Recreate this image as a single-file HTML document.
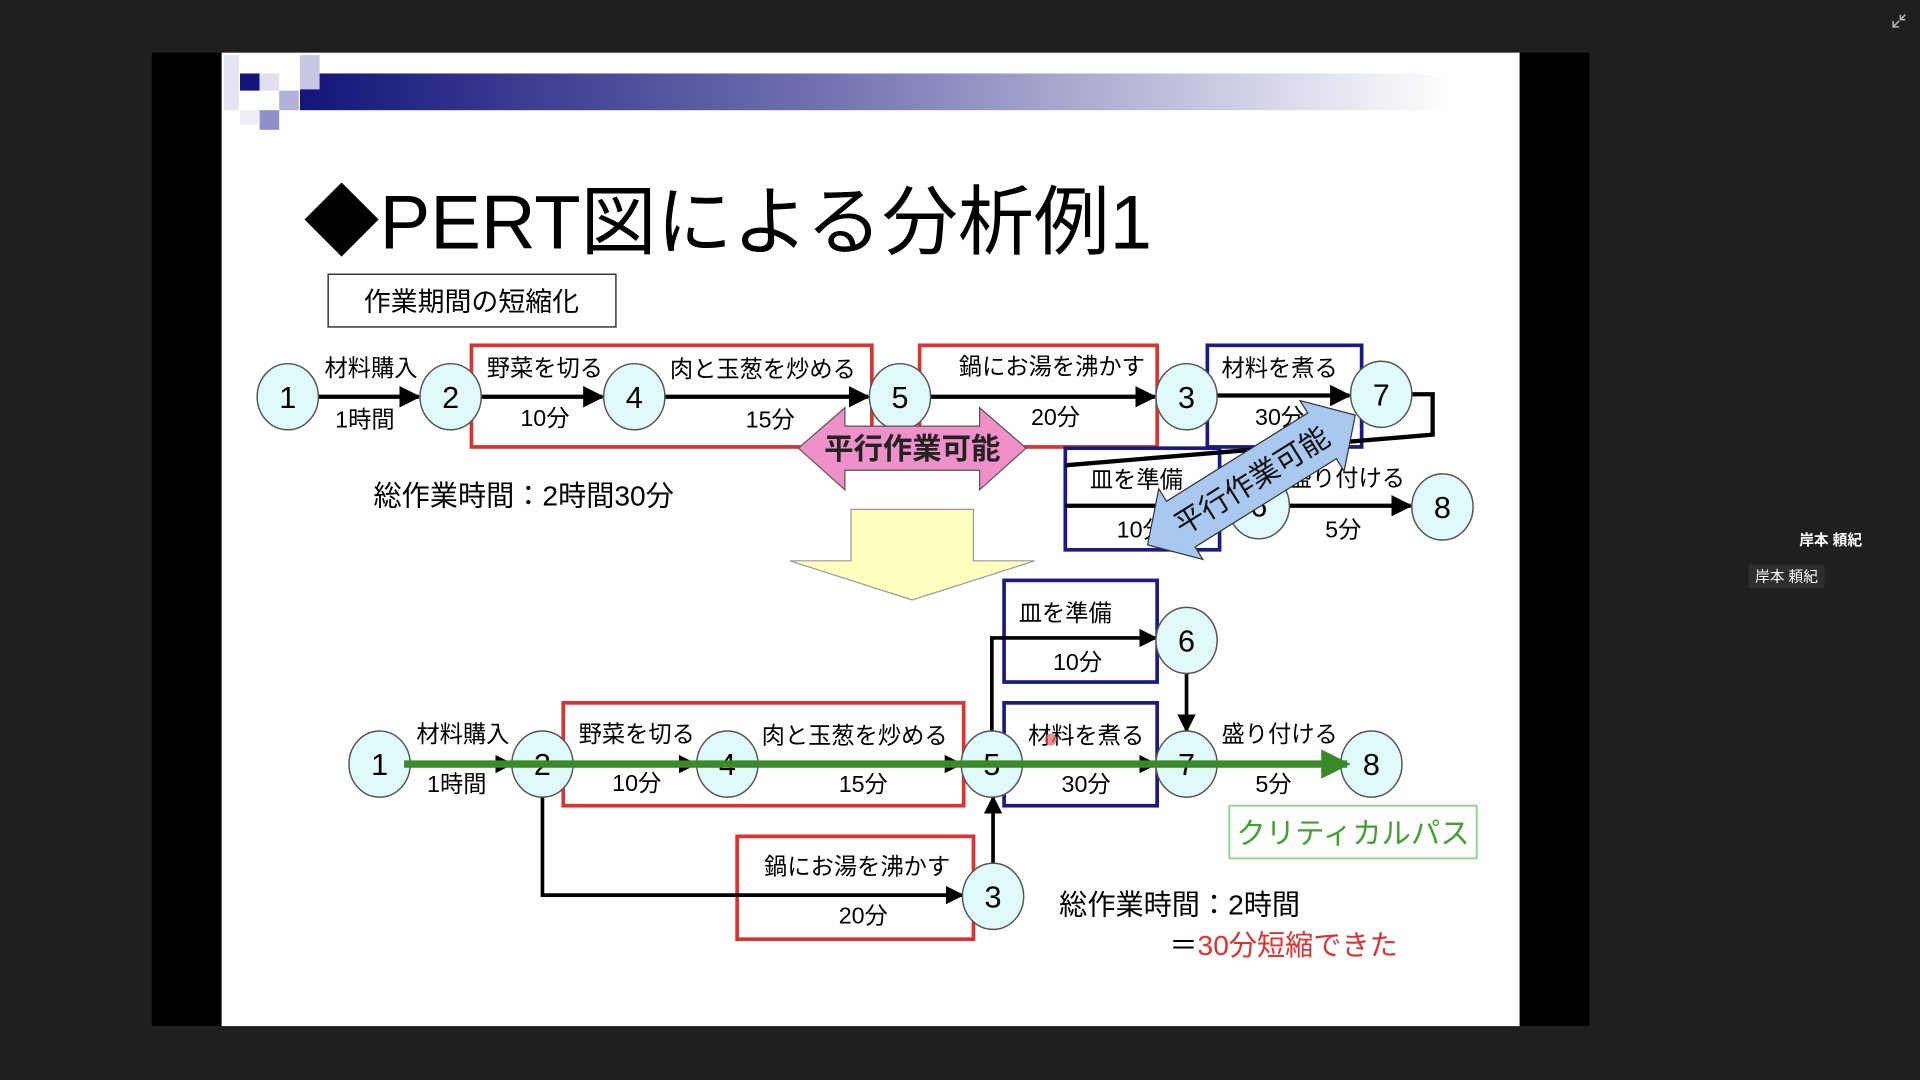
<!DOCTYPE html>
<html><head><meta charset="utf-8"><style>
html,body{margin:0;padding:0;background:#1f1f1f;width:1920px;height:1080px;overflow:hidden}
svg{display:block}
text{font-family:"Liberation Sans","Noto Sans CJK JP",sans-serif}
</style></head><body>
<svg width="1920" height="1080" viewBox="0 0 1568 882" xmlns="http://www.w3.org/2000/svg">
<defs>
<linearGradient id="band" x1="0" x2="1" y1="0" y2="0">
<stop offset="0" stop-color="#14147a"/><stop offset="0.45" stop-color="#7070b0"/><stop offset="1" stop-color="#ffffff"/></linearGradient>
<marker id="ah" markerWidth="5" markerHeight="5" refX="4.5" refY="2.5" orient="auto" markerUnits="strokeWidth">
<path d="M0,0 L5,2.5 L0,5 z" fill="#000"/></marker>
<marker id="ag" markerWidth="4" markerHeight="4" refX="3.5" refY="2" orient="auto" markerUnits="strokeWidth">
<path d="M0,0 L4,2 L0,4 z" fill="#3a8a2a"/></marker>
</defs>
<rect x="0" y="0" width="1568" height="882" fill="#1f1f1f"/>
<rect x="124" y="43" width="1174" height="795" fill="#000"/>
<rect x="181" y="43" width="1060" height="795" fill="#fff"/>
<rect x="245" y="60" width="940" height="30" fill="url(#band)"/>
<rect x="183" y="45" width="12" height="45" fill="#e4e4f2"/>
<rect x="245" y="45" width="16" height="28" fill="#c8c8e4"/>
<rect x="196" y="60" width="16" height="14" fill="#14147a"/>
<rect x="212" y="60" width="16" height="14" fill="#e0e0f0"/>
<rect x="228" y="74" width="16" height="16" fill="#b0b0d8"/>
<rect x="212" y="90" width="16" height="16" fill="#9090c8"/>
<rect x="196" y="90" width="16" height="12" fill="#eeeef6"/>
<text x="248" y="203" font-size="62" fill="#000">◆PERT図による分析例1</text>
<rect x="268" y="224" width="235" height="43" fill="#fff" stroke="#333" stroke-width="1.2"/>
<text x="385" y="254" font-size="22" text-anchor="middle">作業期間の短縮化</text>

<rect x="385" y="282" width="327" height="83" fill="none" stroke="#e03030" stroke-width="3"/>
<rect x="751" y="282" width="194" height="83" fill="none" stroke="#e03030" stroke-width="3"/>
<rect x="986" y="282" width="126" height="83" fill="none" stroke="#1a1a80" stroke-width="3"/>
<rect x="870" y="366" width="126" height="83" fill="#fff" stroke="#1a1a80" stroke-width="3"/>
<g stroke="#000" stroke-width="3.5" fill="none">
<line x1="260" y1="324" x2="342" y2="324" marker-end="url(#ah)"/>
<line x1="393" y1="324" x2="492" y2="324" marker-end="url(#ah)"/>
<line x1="543" y1="324" x2="709" y2="324" marker-end="url(#ah)"/>
<line x1="760" y1="324" x2="943" y2="324" marker-end="url(#ah)"/>
<line x1="994" y1="323" x2="1102" y2="323" marker-end="url(#ah)"/>
<polyline points="1152,322 1170,322 1170,355 870,380"/>
<line x1="1053" y1="413" x2="1152" y2="413" marker-end="url(#ah)"/>
<line x1="870" y1="413" x2="1003" y2="413"/>
</g>
<g fill="#e0fafa" stroke="#555" stroke-width="1.2">
<ellipse cx="235" cy="324" rx="25" ry="27"/><ellipse cx="368" cy="324" rx="25" ry="27"/>
<ellipse cx="518" cy="324" rx="25" ry="27"/><ellipse cx="735" cy="324" rx="25" ry="27"/>
<ellipse cx="969" cy="324" rx="25" ry="27"/><ellipse cx="1128" cy="322" rx="25" ry="27"/>
<ellipse cx="1028" cy="413" rx="25" ry="27"/><ellipse cx="1178" cy="414" rx="25" ry="27"/>
</g>
<g font-size="25" text-anchor="middle">
<text x="235" y="333">1</text><text x="368" y="333">2</text><text x="518" y="333">4</text>
<text x="735" y="333">5</text><text x="969" y="333">3</text><text x="1128" y="331">7</text>
<text x="1028" y="422">6</text><text x="1178" y="423">8</text>
</g>
<g font-size="19" text-anchor="middle">
<text x="303" y="307">材料購入</text><text x="298" y="349">1時間</text>
<text x="445" y="307">野菜を切る</text><text x="445" y="348">10分</text>
<text x="623" y="308">肉と玉葱を炒める</text><text x="629" y="349">15分</text>
<text x="859" y="306">鍋にお湯を沸かす</text><text x="862" y="347">20分</text>
<text x="1045" y="307">材料を煮る</text><text x="1045" y="347">30分</text>
<text x="928" y="398">皿を準備</text><text x="932" y="439">10分</text>
<text x="1100" y="397">盛り付ける</text><text x="1097" y="439">5分</text>
</g>
<polygon points="652,366 690,333 690,348 800,348 800,333 838,366 800,400 800,384 690,384 690,400" fill="#f090c8" stroke="#555" stroke-width="1"/>
<text x="745" y="375" font-size="24" text-anchor="middle" font-weight="bold" fill="#222">平行作業可能</text>
<g transform="translate(1022,392) rotate(-32)">
<polygon points="-100,0 -68,-34 -68,-22 68,-22 68,-34 100,0 68,34 68,22 -68,22 -68,34" fill="#a8c8f0" stroke="#333" stroke-width="1"/>
<text x="0" y="9" font-size="24" text-anchor="middle" fill="#111">平行作業可能</text>
</g>
<text x="305" y="413" font-size="23">総作業時間：2時間30分</text>
<polygon points="695,416 795,416 795,458 845,458 745,490 645,458 695,458" fill="#ffffc0" stroke="#999" stroke-width="1"/>

<rect x="460" y="574" width="327" height="84" fill="none" stroke="#e03030" stroke-width="3"/>
<rect x="820" y="474" width="125" height="83" fill="none" stroke="#1a1a80" stroke-width="3"/>
<rect x="820" y="574" width="125" height="84" fill="none" stroke="#1a1a80" stroke-width="3"/>
<rect x="602" y="683" width="193" height="84" fill="none" stroke="#e03030" stroke-width="3"/>
<g stroke="#000" stroke-width="3" fill="none">
<line x1="335" y1="624" x2="418" y2="624" marker-end="url(#ah)"/>
<line x1="468" y1="624" x2="568" y2="624" marker-end="url(#ah)"/>
<line x1="619" y1="624" x2="785" y2="624" marker-end="url(#ah)"/>
<line x1="835" y1="624" x2="944" y2="624" marker-end="url(#ah)"/>
<polyline points="443,650 443,731 786,731" marker-end="url(#ah)"/>
<polyline points="811,706 811,651" marker-end="url(#ah)"/>
<polyline points="810,598 810,521 944,521" marker-end="url(#ah)"/>
<polyline points="969,549 969,597" marker-end="url(#ah)"/>
</g>
<g fill="#e0fafa" stroke="#555" stroke-width="1.2">
<ellipse cx="310" cy="624" rx="25" ry="27"/><ellipse cx="443" cy="624" rx="25" ry="27"/>
<ellipse cx="594" cy="624" rx="25" ry="27"/><ellipse cx="810" cy="624" rx="25" ry="27"/>
<ellipse cx="969" cy="624" rx="25" ry="27"/><ellipse cx="1120" cy="624" rx="25" ry="27"/>
<ellipse cx="969" cy="523" rx="25" ry="27"/><ellipse cx="811" cy="732" rx="25" ry="27"/>
</g>
<g font-size="25" text-anchor="middle">
<text x="310" y="633">1</text><text x="443" y="633">2</text><text x="594" y="633">4</text>
<text x="810" y="633">5</text><text x="969" y="633">7</text><text x="1120" y="633">8</text>
<text x="969" y="532">6</text><text x="811" y="741">3</text>
</g>
<line x1="330" y1="624" x2="1100" y2="624" stroke="#3a8a2a" stroke-width="6" marker-end="url(#ag)"/>
<g font-size="19" text-anchor="middle">
<text x="378" y="606">材料購入</text><text x="373" y="647">1時間</text>
<text x="520" y="606">野菜を切る</text><text x="520" y="646">10分</text>
<text x="698" y="607">肉と玉葱を炒める</text><text x="705" y="647">15分</text>
<text x="887" y="607">材料を煮る</text><text x="887" y="647">30分</text>
<text x="870" y="507">皿を準備</text><text x="880" y="547">10分</text>
<text x="1045" y="606">盛り付ける</text><text x="1040" y="647">5分</text>
<text x="700" y="714">鍋にお湯を沸かす</text><text x="705" y="754">20分</text>
</g>
<circle cx="858" cy="604" r="5" fill="#e06060" opacity="0.7"/>
<rect x="1004" y="658" width="202" height="43" fill="#fff" stroke="#90d090" stroke-width="1.5"/>
<text x="1105" y="689" font-size="24" text-anchor="middle" fill="#40a030">クリティカルパス</text>
<text x="865" y="747" font-size="23">総作業時間：2時間</text>
<text x="955" y="780" font-size="23">＝<tspan fill="#e03030">30分短縮できた</tspan></text>

<text x="1495" y="445" font-size="12" fill="#fff" text-anchor="middle" font-weight="bold">岸本 頼紀</text>
<rect x="1428" y="461" width="62" height="19" fill="#2e2e2e"/>
<text x="1459" y="475" font-size="12" fill="#fff" text-anchor="middle">岸本 頼紀</text>
<path d="M1546,22 l5,-5 M1546,17 v5 h5 M1556,12 l-4,4 M1556,16 h-4 v-4" stroke="#bbb" stroke-width="1.2" fill="none"/>
</svg>
</body></html>
